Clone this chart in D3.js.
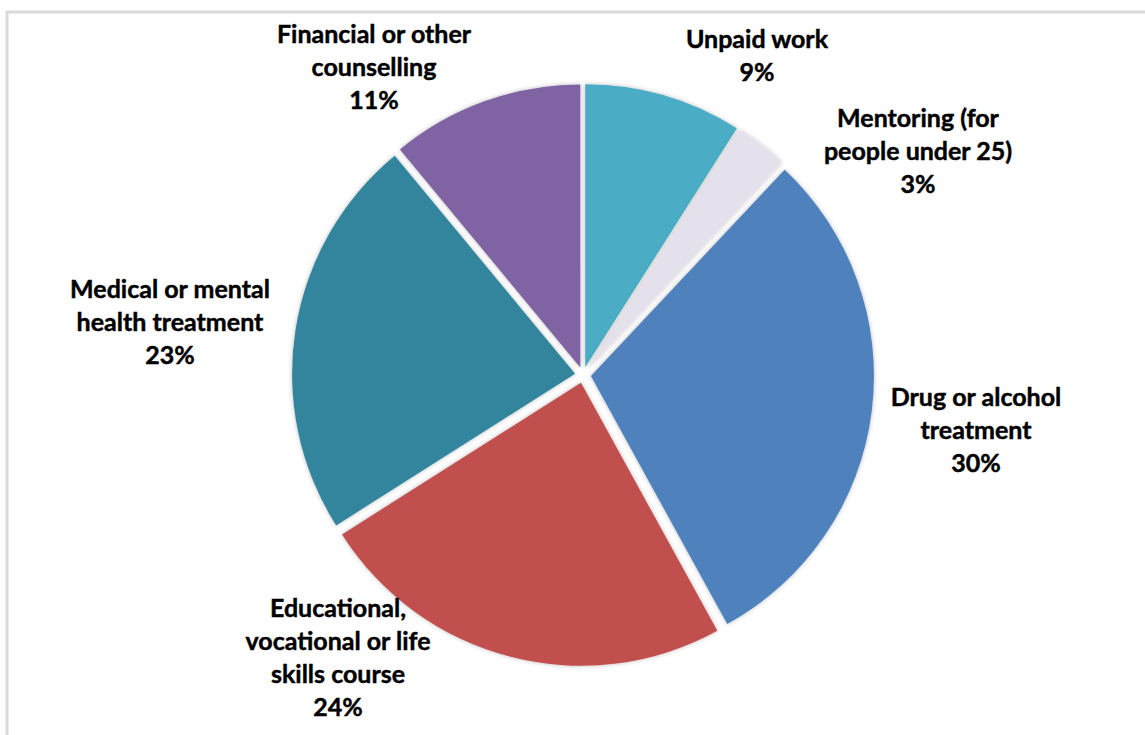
<!DOCTYPE html>
<html>
<head>
<meta charset="utf-8">
<script src="https://cdn.jsdelivr.net/npm/d3@7"></script>
<style>
  html, body { margin: 0; padding: 0; background: #fff; }
  svg { display: block; }
  .lbl { font-family: Lato, "Open Sans", sans-serif; font-weight: 700; font-size: 25px; fill: #000; stroke: #000; stroke-width: 0.45px; }
</style>
</head>
<body>
<svg id="chart" width="1145" height="735"></svg>
<script>
// Support types received, share of total (%)
const categories = [
  "Unpaid work",
  "Mentoring (for people under 25)",
  "Drug or alcohol treatment",
  "Educational, vocational or life skills course",
  "Medical or mental health treatment",
  "Financial or other counselling"
];
const values = [9, 3, 30, 24, 23, 11];
const colors = ["#4BACC6", "#E4E0EC", "#4F81BD", "#C0504D", "#31859C", "#8064A2"];

// Label text broken into lines as displayed
const labelLines = [
  ["Unpaid work"],
  ["Mentoring (for", "people under 25)"],
  ["Drug or alcohol", "treatment"],
  ["Educational,", "vocational or life", "skills course"],
  ["Medical or mental", "health treatment"],
  ["Financial or other", "counselling"]
];
// Centre of the first text line of each label block
const labelAnchor = [
  [757, 38], [918, 117], [976, 396], [338, 607], [170, 288], [374, 33]
];

const width = 1145, height = 735;
const cx = 583, cy = 375, radius = 283, explode = 8, lineH = 33;

const svg = d3.select("#chart");

// Outer frame
svg.append("rect")
  .attr("x", 7).attr("y", 12)
  .attr("width", 1300).attr("height", 900)
  .attr("fill", "none")
  .attr("stroke", "#d9d9d9")
  .attr("stroke-width", 3);

const defs = svg.append("defs");
const f = defs.append("filter").attr("id", "soft")
  .attr("x", "-10%").attr("y", "-10%").attr("width", "120%").attr("height", "120%");
f.append("feDropShadow")
  .attr("dx", 0).attr("dy", 0)
  .attr("stdDeviation", 2.2)
  .attr("flood-color", "#000")
  .attr("flood-opacity", 0.28);

const pie = d3.pie().sort(null).value(d => d)
  .startAngle(0).endAngle(2 * Math.PI);
const arcs = pie(values);
const arc = d3.arc().innerRadius(0).outerRadius(radius);

const g = svg.append("g").attr("transform", `translate(${cx},${cy})`);

g.selectAll("path.slice")
  .data(arcs)
  .join("path")
  .attr("class", "slice")
  .attr("d", arc)
  .attr("fill", (d, i) => colors[i])
  .attr("filter", "url(#soft)")
  .attr("transform", d => {
    const a = (d.startAngle + d.endAngle) / 2;
    return `translate(${explode * Math.sin(a)},${-explode * Math.cos(a)})`;
  });

// Labels: category lines followed by the percentage
const lg = svg.append("g");
arcs.forEach((d, i) => {
  const lines = labelLines[i].concat([d3.format(".0f")(values[i]) + "%"]);
  const [x, y] = labelAnchor[i];
  const t = lg.append("text")
    .attr("class", "lbl")
    .attr("text-anchor", "middle")
    .attr("x", x)
    .attr("y", y)
    .attr("dominant-baseline", "central");
  lines.forEach((s, k) => {
    t.append("tspan").attr("x", x).attr("y", y + k * lineH).text(s);
  });
});
</script>
</body>
</html>
